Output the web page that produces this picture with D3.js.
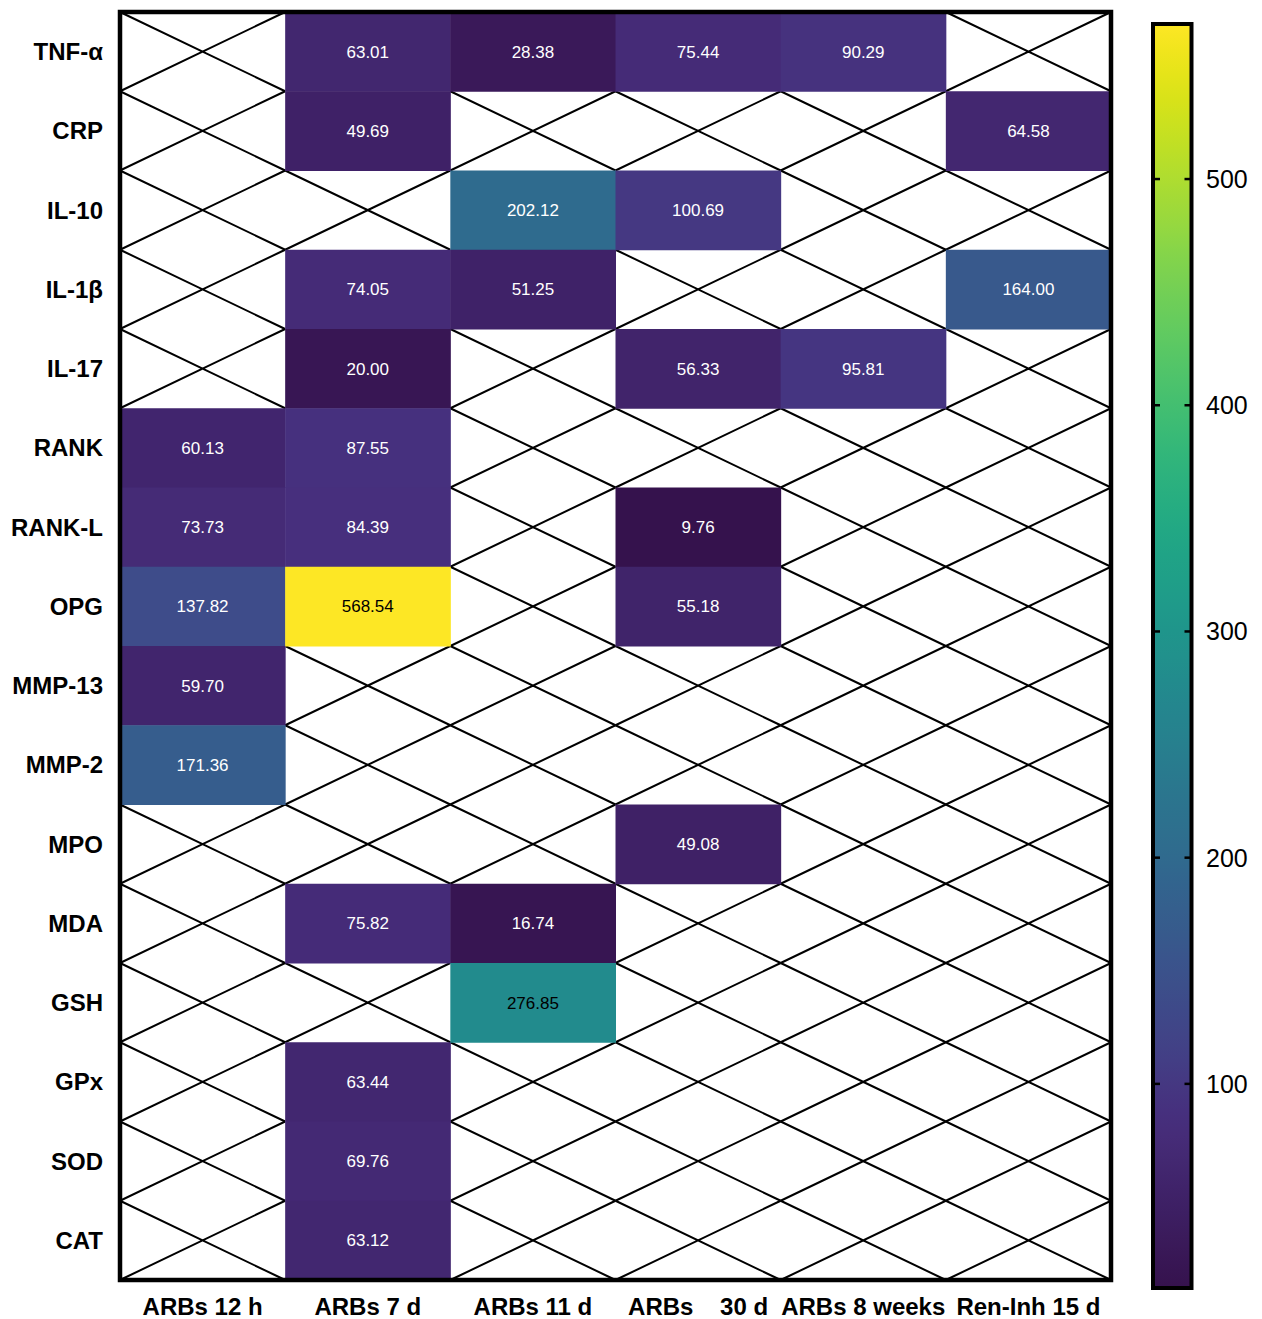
<!DOCTYPE html>
<html><head><meta charset="utf-8">
<script src="https://cdn.jsdelivr.net/npm/d3@7"></script>
<style>body{margin:0;background:#fff}svg{display:block}text{font-family:Arial,"Liberation Sans",sans-serif}</style>
</head><body><svg id="c" width="1262" height="1319"></svg>
<script>
const rows = ["TNF-α","CRP","IL-10","IL-1β","IL-17","RANK","RANK-L","OPG","MMP-13","MMP-2","MPO","MDA","GSH","GPx","SOD","CAT"];
const columns = ["ARBs 12 h","ARBs 7 d","ARBs 11 d","ARBs    30 d","ARBs 8 weeks","Ren-Inh 15 d"];
// values per column, in row order (null = no data)
const arbs12h   = [null,null,null,null,null,60.13,73.73,137.82,59.70,171.36,null,null,null,null,null,null];
const arbs7d    = [63.01,49.69,null,74.05,20.00,87.55,84.39,568.54,null,null,null,75.82,null,63.44,69.76,63.12];
const arbs11d   = [28.38,null,202.12,51.25,null,null,null,null,null,null,null,16.74,276.85,null,null,null];
const arbs30d   = [75.44,null,100.69,null,56.33,null,9.76,55.18,null,null,49.08,null,null,null,null,null];
const arbs8w    = [90.29,null,null,null,95.81,null,null,null,null,null,null,null,null,null,null,null];
const renInh15d = [null,64.58,null,164.00,null,null,null,null,null,null,null,null,null,null,null,null];
const columnValues = [arbs12h,arbs7d,arbs11d,arbs30d,arbs8w,renInh15d];
const colorTicks = [100,200,300,400,500];
const colorDomain = [9.76,568.54];

const svg = d3.select("#c");
const L=120, R=1111, T=12, B=1280;
const x = d3.scaleBand().domain(columns).range([L,R]);
const y = d3.scaleBand().domain(rows).range([T,B]);
// viridis with a slightly bluer, darker low end (as in the reference palette)
const lowEnd = d3.interpolateRgb("#35124d", d3.interpolateViridis(0.13));
const palette = t => t < 0.13 ? lowEnd(t/0.13) : d3.interpolateViridis(t);
const color = d3.scaleSequential(palette).domain(colorDomain);

const cells = [];
columns.forEach((c,ci)=>rows.forEach((r,ri)=>cells.push({c,r,v:columnValues[ci][ri]})));

const g = svg.append("g");
const empty = cells.filter(d=>d.v==null);
g.selectAll("path.x").data(empty).join("path")
  .attr("d",d=>{const x0=x(d.c),x1=x0+x.bandwidth(),y0=y(d.r),y1=y0+y.bandwidth();
    return `M${x0},${y0}L${x1},${y1}M${x0},${y1}L${x1},${y0}`;})
  .attr("stroke","#000").attr("stroke-width",2).attr("fill","none");
const full = cells.filter(d=>d.v!=null);
g.selectAll("rect.cell").data(full).join("rect")
  .attr("x",d=>x(d.c)).attr("y",d=>y(d.r))
  .attr("width",x.bandwidth()+0.5).attr("height",y.bandwidth()+0.5)
  .attr("fill",d=>color(d.v));
g.selectAll("text.val").data(full).join("text")
  .attr("x",d=>x(d.c)+x.bandwidth()/2).attr("y",d=>y(d.r)+y.bandwidth()/2)
  .attr("dy","0.35em").attr("text-anchor","middle").attr("font-size",17)
  .attr("fill",d=>d.v>250?"#000":"#fff").text(d=>d.v.toFixed(2));
svg.append("rect").attr("x",L).attr("y",T).attr("width",R-L).attr("height",B-T)
  .attr("fill","none").attr("stroke","#000").attr("stroke-width",4.5);

svg.selectAll("text.row").data(rows).join("text")
  .attr("x",103).attr("y",d=>y(d)+y.bandwidth()/2).attr("dy","0.35em")
  .attr("text-anchor","end").attr("font-size",24).attr("font-weight","bold").attr("fill","#000")
  .text(d=>d);
svg.selectAll("text.col").data(columns).join("text")
  .attr("x",d=>x(d)+x.bandwidth()/2).attr("y",1315)
  .attr("text-anchor","middle").attr("font-size",24).attr("font-weight","bold").attr("fill","#000")
  .attr("xml:space","preserve").style("white-space","pre")
  .text(d=>d);

const cbL=1153, cbR=1191.5, cbT=24, cbB=1288;
const cy = d3.scaleLinear().domain(colorDomain).range([cbB,cbT]);
const defs = svg.append("defs");
const grad = defs.append("linearGradient").attr("id","vg").attr("x1",0).attr("y1",1).attr("x2",0).attr("y2",0);
d3.range(0,1.0001,0.02).forEach(t=>grad.append("stop").attr("offset",t)
  .attr("stop-color",color(colorDomain[0]+t*(colorDomain[1]-colorDomain[0]))));
svg.append("rect").attr("x",cbL).attr("y",cbT).attr("width",cbR-cbL).attr("height",cbB-cbT)
  .attr("fill","url(#vg)").attr("stroke","#000").attr("stroke-width",4);
const tk = svg.append("g");
colorTicks.forEach(v=>{
  tk.append("line").attr("x1",cbL).attr("x2",cbL+7).attr("y1",cy(v)).attr("y2",cy(v)).attr("stroke","#000").attr("stroke-width",2.5);
  tk.append("line").attr("x1",cbR-7).attr("x2",cbR).attr("y1",cy(v)).attr("y2",cy(v)).attr("stroke","#000").attr("stroke-width",2.5);
  tk.append("text").attr("x",1206).attr("y",cy(v)).attr("dy","0.36em").attr("font-size",25).attr("fill","#000").text(v);
});
</script></body></html>
